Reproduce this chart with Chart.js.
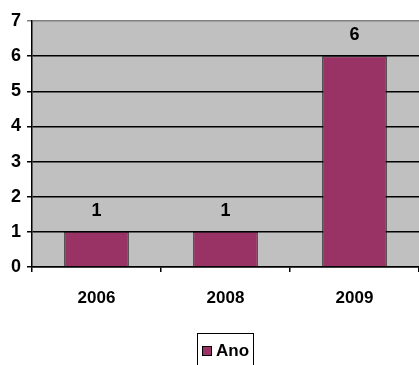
<!DOCTYPE html>
<html>
<head>
<meta charset="utf-8">
<script src="https://cdn.jsdelivr.net/npm/chart.js@4/dist/chart.umd.min.js"></script>
<style>
  html, body { margin: 0; padding: 0; background: #fff; }
  #wrap { width: 419px; height: 365px; }
</style>
</head>
<body>
<div id="wrap"><canvas id="c" width="419" height="365"></canvas></div>
<script>
// values
const years = ['2006', '2008', '2009'];
const counts = [1, 1, 6];
const seriesName = 'Ano';
const yTicks = [0, 1, 2, 3, 4, 5, 6, 7];

const FONT = '"Liberation Sans", Arial, sans-serif';
const BAR = '#993366';

// grey plot background
const plotBg = {
  id: 'plotBg',
  beforeDraw(chart) {
    const { ctx, chartArea: a } = chart;
    ctx.save();
    ctx.fillStyle = '#c0c0c0';
    ctx.fillRect(a.left, a.top, a.right - a.left, a.bottom - a.top);
    ctx.restore();
  }
};

// value labels above the bars
const valueLabels = {
  id: 'valueLabels',
  afterDatasetsDraw(chart) {
    const { ctx } = chart;
    const meta = chart.getDatasetMeta(0);
    ctx.save();
    ctx.font = 'bold 18px ' + FONT;
    ctx.fillStyle = '#000';
    ctx.textAlign = 'center';
    ctx.textBaseline = 'middle';
    meta.data.forEach((bar, i) => {
      ctx.fillText(String(counts[i]), bar.x, bar.y - 21);
    });
    ctx.restore();
  }
};

// boxed legend under the axis
const boxLegend = {
  id: 'boxLegend',
  afterDraw(chart) {
    const { ctx } = chart;
    ctx.save();
    ctx.strokeStyle = '#000';
    ctx.lineWidth = 1;
    ctx.strokeRect(197.5, 333.5, 56, 40);
    ctx.fillStyle = BAR;
    ctx.fillRect(202, 346, 10, 10);
    ctx.strokeRect(202.5, 346.5, 9, 9);
    ctx.font = 'bold 17px ' + FONT;
    ctx.fillStyle = '#000';
    ctx.textBaseline = 'middle';
    ctx.fillText(seriesName, 216, 351);
    ctx.restore();
  }
};

new Chart(document.getElementById('c'), {
  type: 'bar',
  data: {
    labels: years,
    datasets: [{
      label: seriesName,
      data: counts,
      backgroundColor: BAR,
      borderColor: '#000',
      borderWidth: 1,
      categoryPercentage: 0.5,
      barPercentage: 1
    }]
  },
  options: {
    responsive: false,
    animation: false,
    layout: { padding: { top: 21, right: 0, left: 0, bottom: 0 } },
    plugins: { legend: { display: false }, tooltip: { enabled: false } },
    scales: {
      x: {
        offset: true,
        grid: { offset: true, drawOnChartArea: false, color: '#000', lineWidth: 1.5, tickLength: 5 },
        border: { color: '#000', width: 1.5 },
        ticks: { color: '#000', font: { family: FONT, size: 17, weight: 'bold' }, padding: 16 },
        afterFit(s) { s.height = 98; }
      },
      y: {
        min: 0,
        max: 7,
        afterBuildTicks(s) { s.ticks = yTicks.map(v => ({ value: v })); },
        grid: {
          color: c => (c.tick && c.tick.value === 7 ? '#808080' : '#000'),
          lineWidth: 1.5,
          tickLength: 5
        },
        border: { color: '#000', width: 1.5 },
        ticks: { color: '#000', font: { family: FONT, size: 18, weight: 'bold' }, padding: 6 },
        afterFit(s) { s.width = 32; }
      }
    }
  },
  plugins: [plotBg, valueLabels, boxLegend]
});
</script>
</body>
</html>
